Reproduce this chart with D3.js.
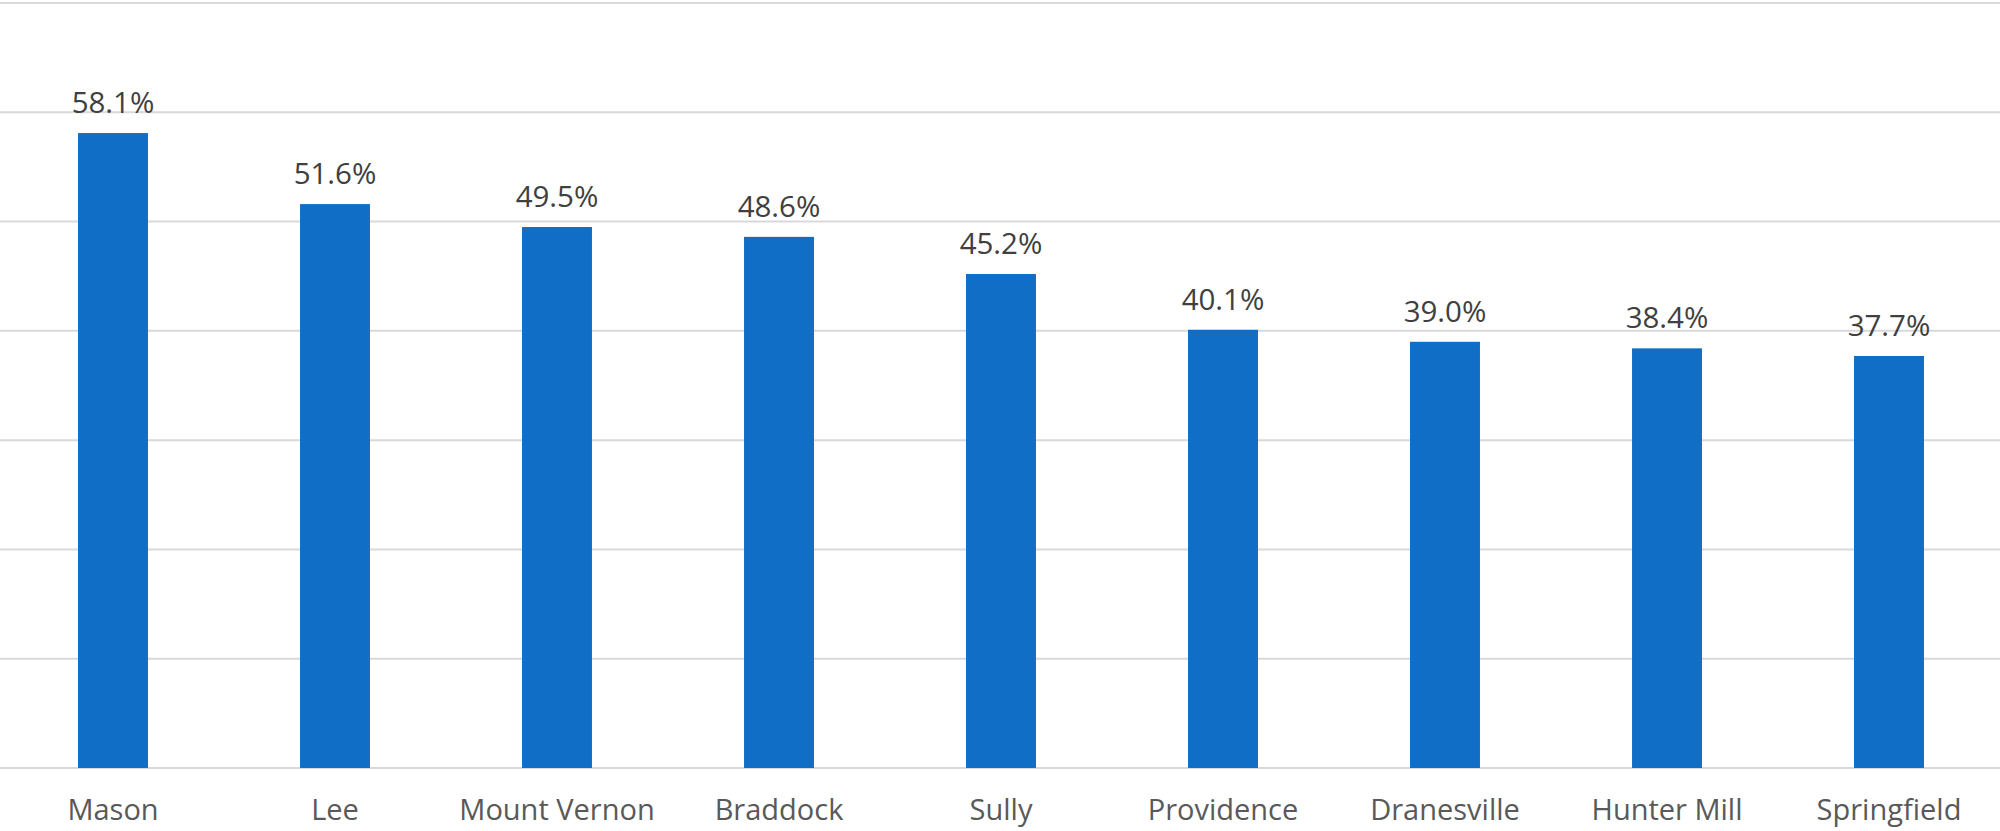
<!DOCTYPE html>
<html>
<head>
<meta charset="utf-8">
<script src="https://cdn.jsdelivr.net/npm/d3@7"></script>
<style>
  body { margin: 0; background: #fff; }
  svg { display: block; font-family: "Open Sans", sans-serif; }
</style>
</head>
<body>
<div id="chart"></div>
<script>
var districts = ["Mason", "Lee", "Mount Vernon", "Braddock", "Sully", "Providence", "Dranesville", "Hunter Mill", "Springfield"];
var shares = [58.1, 51.6, 49.5, 48.6, 45.2, 40.1, 39.0, 38.4, 37.7];
var gridTicks = [0, 10, 20, 30, 40, 50, 60, 70];

var W = 2000, H = 831;
var m = {l: 2, r: 0, t: 3, b: 63};

var svg = d3.select("#chart")
  .append("svg")
  .attr("width", W)
  .attr("height", H);

var x = d3.scaleBand()
  .domain(districts)
  .range([m.l, W - m.r])
  .paddingInner(0.685)
  .paddingOuter(0.3425);

var y = d3.scaleLinear()
  .domain([0, 70])
  .range([H - m.b, m.t]);

// gridlines
svg.append("g")
  .selectAll("line")
  .data(gridTicks)
  .join("line")
  .attr("x1", 0)
  .attr("x2", W)
  .attr("y1", function(d) { return y(d); })
  .attr("y2", function(d) { return y(d); })
  .attr("stroke", "#d9d9d9")
  .attr("stroke-width", 2);

// bars
svg.append("g")
  .selectAll("rect")
  .data(districts)
  .join("rect")
  .attr("x", function(d) { return x(d); })
  .attr("y", function(d, i) { return y(shares[i]); })
  .attr("width", x.bandwidth())
  .attr("height", function(d, i) { return y(0) - y(shares[i]); })
  .attr("fill", "#106ec6");

// value labels
svg.append("g")
  .selectAll("text")
  .data(districts)
  .join("text")
  .attr("x", function(d) { return x(d) + x.bandwidth() / 2; })
  .attr("y", function(d, i) { return y(shares[i]) - 20; })
  .attr("text-anchor", "middle")
  .attr("font-size", 29.5)
  .attr("fill", "#404040")
  .text(function(d, i) { return shares[i].toFixed(1) + "%"; });

// category axis
var xAxis = svg.append("g")
  .attr("transform", "translate(0," + y(0) + ")")
  .call(d3.axisBottom(x).tickSize(0).tickPadding(0));
xAxis.select(".domain").remove();
xAxis.selectAll("text")
  .attr("dy", 0)
  .attr("y", 52)
  .attr("font-family", "Open Sans, sans-serif")
  .attr("font-size", 29)
  .attr("fill", "#595959");
</script>
</body>
</html>
